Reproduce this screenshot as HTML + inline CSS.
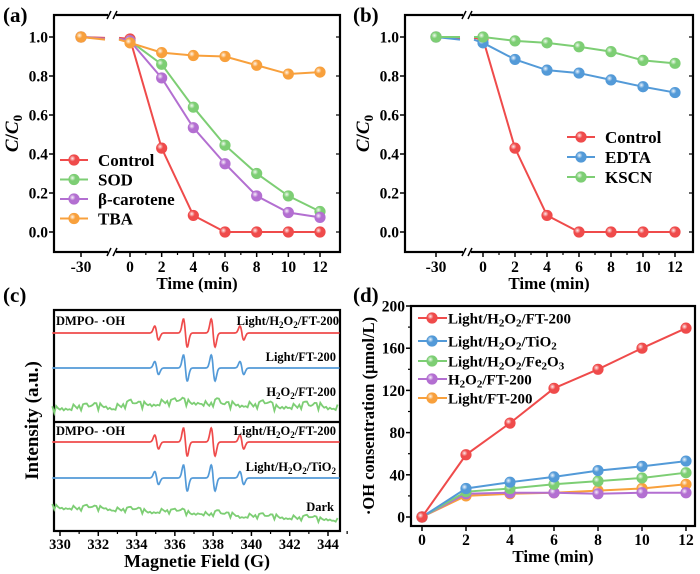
<!DOCTYPE html>
<html><head><meta charset="utf-8"><style>
body{margin:0;background:#fff;}
svg{display:block;font-family:"Liberation Serif",serif;font-weight:bold;}
</style></head><body>
<svg id="fig" width="700" height="574" viewBox="0 0 700 574" xmlns="http://www.w3.org/2000/svg">
<defs>
<radialGradient id="shine" cx="0.35" cy="0.35" r="0.65"><stop offset="0" stop-color="#fff" stop-opacity="0.9"/><stop offset="0.45" stop-color="#fff" stop-opacity="0"/></radialGradient>
</defs>
</svg>
<script>
// ---- data ----
const timeA = [-30, 0, 2, 4, 6, 8, 10, 12];
const aControl = [1.0, 0.99, 0.43, 0.085, 0, 0, 0, 0];
const aSOD = [1.0, 0.98, 0.86, 0.64, 0.445, 0.30, 0.185, 0.105];
const aCarotene = [1.0, 0.98, 0.79, 0.535, 0.35, 0.185, 0.10, 0.075];
const aTBA = [1.0, 0.97, 0.92, 0.905, 0.90, 0.855, 0.81, 0.82];
const bControl = [1.0, 0.99, 0.43, 0.085, 0, 0, 0, 0];
const bEDTA = [1.0, 0.97, 0.885, 0.83, 0.815, 0.78, 0.745, 0.715];
const bKSCN = [1.0, 1.0, 0.98, 0.97, 0.95, 0.925, 0.88, 0.865];
const ccTicks = [0.0, 0.2, 0.4, 0.6, 0.8, 1.0];
const timeTickLabels = ["-30", "0", "2", "4", "6", "8", "10", "12"];
const timeD = [0, 2, 4, 6, 8, 10, 12];
const dRed = [0, 59, 89, 122, 140, 160, 179];
const dBlue = [0, 27, 33, 38, 44, 48, 53];
const dGreen = [0, 24, 27, 31, 34, 37, 42];
const dPurple = [0, 22, 23, 23, 22, 23, 23];
const dOrange = [0, 20, 22, 23, 25, 27, 31];
const dYTicks = [0, 40, 80, 120, 160, 200];
const eprPeaks = [335.05, 336.55, 338.0, 339.5];
const eprAmps = [0.5, 1.0, 1.0, 0.5];
const fieldTicks = [330, 332, 334, 336, 338, 340, 342, 344];
const noiseField = [329.6,330.1,330.5,331,331.4,331.9,332.3,332.8,333.2,333.7,334.1,334.6,335,335.5,335.9,336.4,336.8,337.3,337.7,338.2,338.6,339.1,339.5,340,340.4,340.9,341.3,341.8,342.2,342.7,343.1,343.6,344,344.6];
const noiseTop = [-2,0,0,1,-1,1,2,0,2,3,2,4,4,6,4,6,5,6,3,5,1,4,3,3,2,3,0,2,1,2,0,2,1,0];
const noiseBot = [6,5,5,4,4,4,5,3,3,2,2,1,1,2,0,1,-1,0,-2,-1,-3,-2,-4,-3,-4,-5,-4,-5,-5,-6,-6,-7,-6,-8];
const jitter = [2.5,-3,1,-1.5,3.5,-2,0.5,-4,2,1.5,-2.5,4,-1,-3.5,2,0,3,-2,1,-3,2.5,-0.5,-2];

const RED="#ef4b4b", GREEN="#7dce74", PURPLE="#b36fd1", ORANGE="#f8a03c", BLUE="#539ad8";
const svg=document.getElementById('fig');
const NS="http://www.w3.org/2000/svg";
function mk(tag,attrs,parent){const e=document.createElementNS(NS,tag);for(const k in attrs)e.setAttribute(k,attrs[k]);(parent||svg).appendChild(e);return e;}
function txt(x,y,s,size,anchor,parent){const t=mk('text',{x:x,y:y,'font-size':size,'text-anchor':anchor||'middle'},parent);t.textContent=s;return t;}

function marker(x,y,c,g){const m=mk('circle',{cx:x,cy:y,r:5.2,fill:c,stroke:c,'stroke-width':0.8},g);
 mk('circle',{cx:x,cy:y,r:5.2,fill:'url(#shine)'},g);}

[["(a)",3,22],["(b)",353,22],["(c)",3,302],["(d)",353,302]].forEach(p=>{const t=txt(p[1],p[2],p[0],21,'start');});

function breakPanel(name,L,R,xm30,x0,x12,brk,series,legend){
 const g=mk('g',{});  
 const T=15,B=252,y1=37,y0=232;
 const sy=v=>y0+(y1-y0)*v;
 const sx=t=>t<-1?xm30:x0+(x12-x0)*t/12;
 mk('rect',{x:L,y:T,width:R-L,height:B-T,fill:'none',stroke:'#000','stroke-width':2.2},g);
 [T,B].forEach(yy=>{mk('rect',{x:brk-4,y:yy-4,width:8,height:8,fill:'#fff'},g);
  mk('line',{x1:brk-5,y1:yy+4,x2:brk-1,y2:yy-4,stroke:'#000','stroke-width':1.5},g);
  mk('line',{x1:brk+1,y1:yy+4,x2:brk+5,y2:yy-4,stroke:'#000','stroke-width':1.5},g);});
 ccTicks.forEach(v=>{mk('line',{x1:L-5,y1:sy(v),x2:L,y2:sy(v),stroke:'#000','stroke-width':1.5},g);
  const t=txt(L-6,sy(v)+5.5,v.toFixed(1),15.5,'end',g);
  mk('line',{x1:R,y1:sy(v),x2:R-4,y2:sy(v),stroke:'#000','stroke-width':1.2},g);});
 timeA.forEach((t,i)=>{const x=sx(t);mk('line',{x1:x,y1:B,x2:x,y2:B+5,stroke:'#000','stroke-width':1.5},g);
  const l=txt(x,B+20,timeTickLabels[i],15.5,'middle',g);});
 for(let t=1;t<12;t+=2){const x=sx(t);mk('line',{x1:x,y1:B,x2:x,y2:B+3,stroke:'#000','stroke-width':1.2},g);}
 const xl=txt((L+R)/2,B+37,"Time (min)",17,'middle',g);
 const yl=mk('text',{x:0,y:0,'font-size':19,'text-anchor':'middle',transform:`translate(${L-36},${(T+B)/2}) rotate(-90)`},g);
 yl.innerHTML='<tspan font-style="italic">C</tspan>/<tspan font-style="italic">C</tspan><tspan font-size="13" dy="4">0</tspan>';
 
 series.forEach(s=>{const sg=mk('g',{},g);
  const yb=sy(s.v[0]+(s.v[1]-s.v[0])*0.45);
  mk('line',{x1:sx(timeA[0]),y1:sy(s.v[0]),x2:brk-7,y2:yb,stroke:s.c,'stroke-width':2},sg);
  let d=`M${brk+7},${yb}`;for(let i=1;i<timeA.length;i++)d+=` L${sx(timeA[i])},${sy(s.v[i])}`;
  mk('path',{d:d,fill:'none',stroke:s.c,'stroke-width':2},sg);
  s.v.forEach((v,i)=>marker(sx(timeA[i]),sy(v),s.c,sg));});
 const lg=mk('g',{},g);
 legend.rows.forEach((r,k)=>{const y=legend.y+k*legend.dy;const s=series[k];
  const eg=mk('g',{},lg);
  mk('line',{x1:legend.x,y1:y,x2:legend.x+28,y2:y,stroke:s.c,'stroke-width':2},eg);marker(legend.x+14,y,s.c,eg);
  txt(legend.x+38,y+6,r,17,'start',eg);});
}
breakPanel('panel-a-chart',54,340,81,130,320,112,
 [{name:'control',v:aControl,c:RED},{name:'sod',v:aSOD,c:GREEN},{name:'beta-carotene',v:aCarotene,c:PURPLE},{name:'tba',v:aTBA,c:ORANGE}],
 {x:60,y:160,dy:19.5,rows:["Control","SOD","β-carotene","TBA"]});
breakPanel('panel-b-chart',405,693,436,483,675,467,
 [{name:'control',v:bControl,c:RED},{name:'edta',v:bEDTA,c:BLUE},{name:'kscn',v:bKSCN,c:GREEN}],
 {x:567,y:137,dy:20,rows:["Control","EDTA","KSCN"]});

(function(){
 const g=mk('g',{});
 const L=54,R=340,T=310,B=531,M=422;
 const fx=f=>60+(328-60)*(f-330)/14;
 mk('rect',{x:L,y:T,width:R-L,height:B-T,fill:'none',stroke:'#000','stroke-width':2.2},g);
 mk('line',{x1:L,y1:M,x2:R,y2:M,stroke:'#000','stroke-width':2.2},g);
 fieldTicks.forEach(f=>{mk('line',{x1:fx(f),y1:B,x2:fx(f),y2:B+5,stroke:'#000','stroke-width':1.5},g);
  const t=txt(fx(f),B+18,String(f),14.5,'middle',g);
  mk('line',{x1:fx(f+1),y1:B,x2:fx(f+1),y2:B+3,stroke:'#000','stroke-width':1.2},g);});
 const xl=txt((L+R)/2,B+36,"Magnetie Field (G)",18,'middle',g);
 const yl=mk('text',{x:0,y:0,'font-size':19,'text-anchor':'middle',transform:`translate(${L-16},${(T+B)/2}) rotate(-90)`},g);yl.textContent="Intensity (a.u.)";
 
 function spectrum(base,amp,c,name){let d='';const w=0.1;
  for(let f=329.6;f<=344.6;f+=0.02){let v=0;eprPeaks.forEach((p,i)=>{const u=(f-p)/w;v+=-eprAmps[i]*u*Math.exp(-u*u/2)*1.65;});
   d+=(d?' L':'M')+fx(f).toFixed(1)+','+(base-amp*v).toFixed(1);}
  const p=mk('path',{d:d,fill:'none',stroke:c,'stroke-width':1.7},g);}
 function noisy(base,arr,amp,c,name){let d='';let k=0;
  for(let f=329.6;f<=344.6;f+=0.1){let i=0;while(i<noiseField.length-2&&noiseField[i+1]<f)i++;
   const a=(f-noiseField[i])/(noiseField[i+1]-noiseField[i]);const tr=arr[i]+(arr[i+1]-arr[i])*Math.min(1,Math.max(0,a));
   const y=base-tr-jitter[k%jitter.length]*amp;k+=7;
   d+=(d?' L':'M')+fx(f).toFixed(1)+','+y.toFixed(1);}
  const p=mk('path',{d:d,fill:'none',stroke:c,'stroke-width':1.8},g);}
 spectrum(333,14,RED,'spectrum-light-h2o2-ft200-top');
 spectrum(368,13,BLUE,'spectrum-light-ft200');
 noisy(407,noiseTop,1.1,GREEN,'spectrum-h2o2-ft200');
 spectrum(442,14,RED,'spectrum-light-h2o2-ft200-bottom');
 spectrum(478,13,BLUE,'spectrum-light-h2o2-tio2');
 noisy(512,noiseBot,0.8,GREEN,'spectrum-dark');
 const lab=(x,y,h,a)=>{const t=mk('text',{x:x,y:y,'font-size':12.5,'text-anchor':a||'end'},g);t.innerHTML=h;};
 lab(56,325,'DMPO- ·OH','start');lab(56,435,'DMPO- ·OH','start');
 const lh='Light/H<tspan font-size="9" dy="3">2</tspan><tspan dy="-3">O</tspan><tspan font-size="9" dy="3">2</tspan><tspan dy="-3">/FT-200</tspan>';
 lab(339,325,lh);lab(336,361,'Light/FT-200');
 lab(336,396,'H<tspan font-size="9" dy="3">2</tspan><tspan dy="-3">O</tspan><tspan font-size="9" dy="3">2</tspan><tspan dy="-3">/FT-200</tspan>');
 lab(336,435,lh);
 lab(336,471,'Light/H<tspan font-size="9" dy="3">2</tspan><tspan dy="-3">O</tspan><tspan font-size="9" dy="3">2</tspan><tspan dy="-3">/TiO</tspan><tspan font-size="9" dy="3">2</tspan>');
 lab(334,511,'Dark');
})();

(function(){
 const g=mk('g',{});
 const L=411,R=695,T=306,B=526;
 const sx=t=>422+(686-422)*t/12, sy=v=>517-(517-306)*v/200;
 mk('rect',{x:L,y:T,width:R-L,height:B-T,fill:'none',stroke:'#000','stroke-width':2.2},g);
 dYTicks.forEach(v=>{mk('line',{x1:L-5,y1:sy(v),x2:L,y2:sy(v),stroke:'#000','stroke-width':1.5},g);
  const t=txt(L-6,sy(v)+5.5,String(v),15.5,'end',g);});
 for(let v=20;v<200;v+=40)mk('line',{x1:L-3,y1:sy(v),x2:L,y2:sy(v),stroke:'#000','stroke-width':1.2},g);
 timeD.forEach(t=>{mk('line',{x1:sx(t),y1:B,x2:sx(t),y2:B+5,stroke:'#000','stroke-width':1.5},g);
  const l=txt(sx(t),B+19,String(t),15.5,'middle',g);});
 const xl=txt((L+R)/2,B+36,"Time (min)",17,'middle',g);
 const yl=mk('text',{x:0,y:0,'font-size':16.5,'text-anchor':'middle',transform:`translate(${L-37},${(T+B)/2}) rotate(-90)`},g);yl.textContent="·OH consentration (μmol/L)";
 
 const series=[{n:'light-h2o2-ft200',v:dRed,c:RED},{n:'light-h2o2-tio2',v:dBlue,c:BLUE},{n:'light-h2o2-fe2o3',v:dGreen,c:GREEN},{n:'h2o2-ft200',v:dPurple,c:PURPLE},{n:'light-ft200',v:dOrange,c:ORANGE}];
 series.slice().reverse().forEach(s=>{const sg=mk('g',{},g);
  let d='';s.v.forEach((v,i)=>d+=(i?' L':'M')+sx(timeD[i])+','+sy(v));
  mk('path',{d:d,fill:'none',stroke:s.c,'stroke-width':2},sg);
  s.v.forEach((v,i)=>marker(sx(timeD[i]),sy(v),s.c,sg));});
 const sub=(a)=>`<tspan font-size="11" dy="3">${a}</tspan><tspan dy="-3">`;
 const labels=['Light/H'+sub(2)+'O</tspan>'+sub(2)+'/FT-200</tspan>','Light/H'+sub(2)+'O</tspan>'+sub(2)+'/TiO</tspan>'+sub(2)+'</tspan>',
  'Light/H'+sub(2)+'O</tspan>'+sub(2)+'/Fe</tspan>'+sub(2)+'O</tspan>'+sub(3)+'</tspan>','H'+sub(2)+'O</tspan>'+sub(2)+'/FT-200</tspan>','Light/FT-200'];
 const ys=[318,341,361,379,398];
 const lg=mk('g',{},g);
 series.forEach((s,k)=>{const eg=mk('g',{},lg);
  mk('line',{x1:418,y1:ys[k],x2:447,y2:ys[k],stroke:s.c,'stroke-width':2},eg);marker(432,ys[k],s.c,eg);
  const t=mk('text',{x:448,y:ys[k]+5.5,'font-size':15,'text-anchor':'start'},eg);t.innerHTML=labels[k];});
})();
</script>
</body></html>
